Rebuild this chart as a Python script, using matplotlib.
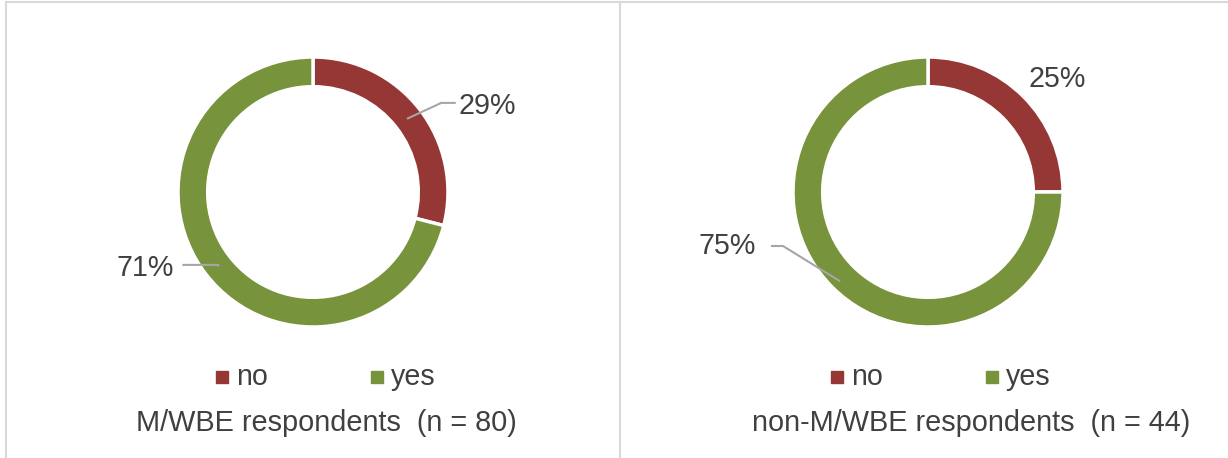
import matplotlib.pyplot as plt
from matplotlib.lines import Line2D
import numpy as np

plt.rcParams['font.family'] = ['Liberation Sans', 'DejaVu Sans']

categories = ['no', 'yes']
mwbe = [29, 71]
non_mwbe = [25, 75]
captions = ['M/WBE respondents  (n = 80)', 'non-M/WBE respondents  (n = 44)']
colors = ['#953735', '#77933C']
txt = '#404040'

W, H = 1228, 458
fig = plt.figure(figsize=(W / 100, H / 100), dpi=100)

R = 135  # outer radius in px


def add_donut(cx, cy, values, label_pos, leaders):
    # axes box in pixels, 1 data unit = R px
    ax = fig.add_axes([(cx - 2 * R) / W, (H - cy - 1.4 * R) / H, 4 * R / W, 2.8 * R / H])
    wedges, _ = ax.pie(values, colors=colors, startangle=90, counterclock=False, radius=1,
                       wedgeprops=dict(width=0.22, edgecolor='white', linewidth=2.5))
    ax.set_xlim(-2, 2)
    ax.set_ylim(-1.4, 1.4)
    ax.set_aspect('equal')
    ax.axis('off')
    for w, v, (tx, ty), lead in zip(wedges, values, label_pos, leaders):
        ang = np.deg2rad((w.theta1 + w.theta2) / 2)
        ax.text(tx, ty, f'{v}%', fontsize=20.6, color=txt, ha='center', va='center')
        if lead is not None:
            r = lead[3]
            px, py = r * np.cos(ang), r * np.sin(ang)
            ax.plot([px, lead[0], lead[1]], [py, lead[2], lead[2]], color='#A6A6A6', lw=1.5)
    return ax


add_donut(313, 192, mwbe, [(1.29, 0.64), (-1.24, -0.56)],
          [(0.95, 1.05, 0.66, 0.89), (-0.70, -0.96, -0.54, 0.89)])
add_donut(928, 192, non_mwbe, [(0.96, 0.84), (-1.49, -0.40)],
          [None, (-1.074, -1.156, -0.40, 0.93)])

# legends and captions
for x0, cap_x, cap in [(222, 326, captions[0]), (837, 971, captions[1])]:
    for i, (lab, col) in enumerate(zip(categories, colors)):
        sx = x0 + i * 155
        fig.patches.append(plt.Rectangle(((sx - 6) / W, 1 - (377 + 6) / H), 12 / W, 12 / H,
                                         transform=fig.transFigure, color=col))
        fig.text((sx + 14) / W, 1 - 377 / H, lab, fontsize=20.6, color=txt, va='center', ha='left')
    fig.text(cap_x / W, 1 - 423 / H, cap, fontsize=20.8, color=txt, ha='center', va='center')

# panel borders
bc = '#D9D9D9'
fig.add_artist(Line2D([5.5 / W, 5.5 / W], [0, 1 - 1.5 / H], color=bc, lw=1.5))
fig.add_artist(Line2D([5.5 / W, 1], [1 - 1.5 / H, 1 - 1.5 / H], color=bc, lw=1.5))
fig.add_artist(Line2D([620.5 / W, 620.5 / W], [0, 1 - 1.5 / H], color=bc, lw=1.5))

fig.savefig('out.png', dpi=100)
